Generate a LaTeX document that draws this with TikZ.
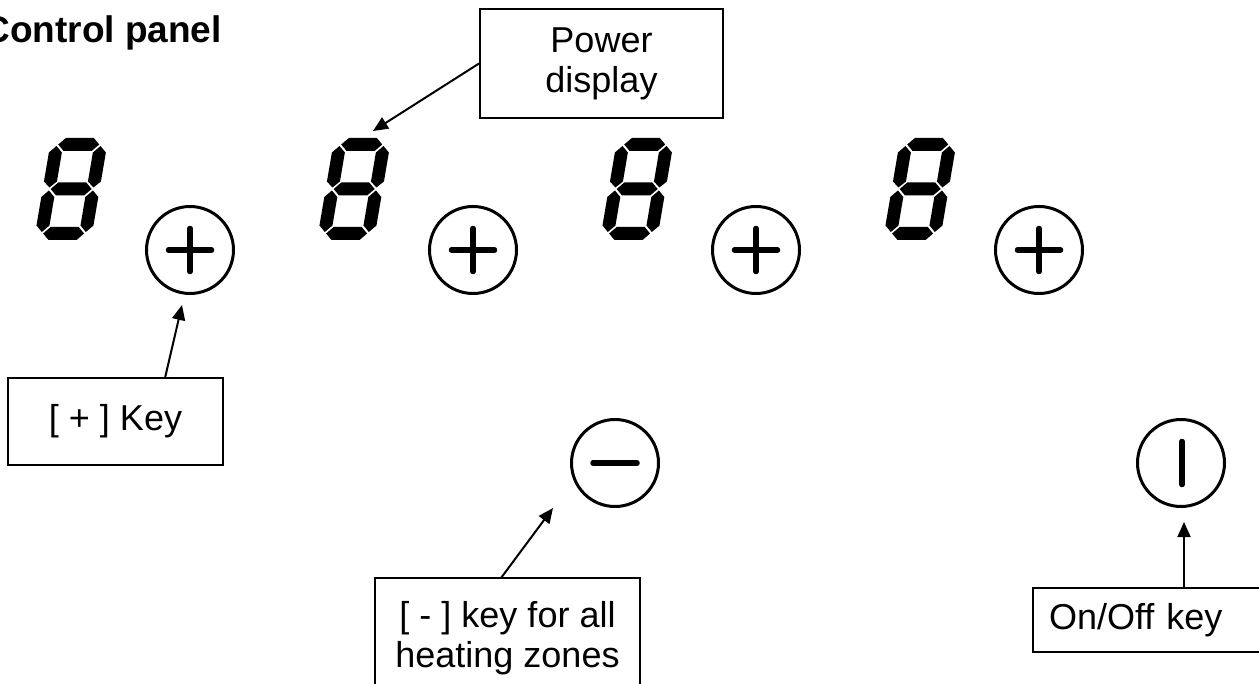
\documentclass[tikz,border=0pt]{standalone}
\usepackage{fontspec}
\setmainfont{Liberation Sans}
\usetikzlibrary{arrows.meta}
\newcommand\digitsegs{%
  \fill (8,-95.5) -- (14.5,-102) -- (42.5,-102) -- (49,-95.5) -- (42.5,-89) -- (14.5,-89) -- cycle;
  \fill (8,-51) -- (14.5,-57.5) -- (42.5,-57.5) -- (49,-51) -- (42.5,-44.5) -- (14.5,-44.5) -- cycle;
  \fill (8,-6.5) -- (14.5,-13) -- (42.5,-13) -- (49,-6.5) -- (42.5,0) -- (14.5,0) -- cycle;
  \fill (6.5,-94) -- (13,-87.5) -- (13,-58.5) -- (6.5,-52.5) -- (0,-58.5) -- (0,-87.5) -- cycle;
  \fill (50.5,-94) -- (57,-87.5) -- (57,-58.5) -- (50.5,-52.5) -- (44,-58.5) -- (44,-87.5) -- cycle;
  \fill (6.5,-49.5) -- (13,-43) -- (13,-14.5) -- (6.5,-8) -- (0,-14.5) -- (0,-43) -- cycle;
  \fill (50.5,-49.5) -- (57,-43) -- (57,-14.5) -- (50.5,-8) -- (44,-14.5) -- (44,-43) -- cycle;
}
\begin{document}
\begin{tikzpicture}[x=0.5pt,y=-0.5pt,
  lbl/.style={draw, line width=1pt, font=\fontsize{18}{20}\selectfont, align=center, inner sep=0pt},
  keycirc/.style={circle, draw, line width=1.5pt, minimum size=43.5pt, inner sep=0pt},
  sym/.style={line width=2.75pt, line cap=round},
  conn/.style={line width=1pt, -{Triangle[length=7.5pt,width=6.5pt]}}]
\useasboundingbox (0,0) rectangle (1259,684);
\clip (0,0) rectangle (1259,684);

% title
\node[anchor=base west, inner sep=0pt, font=\fontsize{18.5}{22}\selectfont\bfseries] (title) at (-17,43) {Control panel};

% seven-segment displays
\foreach \ox in {34,317,600,883} {
  \begin{scope}[shift={(\ox,240)}, xslant=0.17]
    \digitsegs
  \end{scope}
}

% plus keys
\foreach \i/\cx in {1/190,2/473,3/756,4/1039} {
  \node[keycirc] (p\i) at (\cx,250) {};
  \draw[sym] (p\i.center) ++(-21.5,0) -- ++(43,0);
  \draw[sym] (p\i.center) ++(0,-21.5) -- ++(0,43);
}

% minus key
\node[keycirc] (minus) at (615,463) {};
\draw[sym] (minus.center) ++(-22,0) -- ++(44,0);

% on/off key
\node[keycirc] (onoff) at (1181,463) {};
\draw[sym] (onoff.center) ++(1,-21.5) -- ++(0,43);

% label boxes
\node[lbl, minimum width=121.5pt, minimum height=54.5pt] (power) at (601.5,63.5) {Power\\display};
\node[lbl, minimum width=107.5pt, minimum height=43.5pt] (pluskey) at (115.5,421.5) {[ + ] Key};
\node[lbl, minimum width=132.5pt, minimum height=60pt] (minuskey) at (507.5,638) {[ - ] key for all\\heating zones};
\node[lbl, anchor=west, align=left, text width=110pt, inner xsep=8pt, minimum height=32pt] (onkey) at (1032,620) {On/Off key};

% connectors
\coordinate (pwtip) at (373,131);
\coordinate (pks) at (165,378);
\coordinate (pkt) at (182,305);
\coordinate (mks) at (501,578);
\coordinate (mkt) at (553,508);
\coordinate (oks) at (1184,588);
\coordinate (okt) at (1184,522);
\draw[conn] (power.west) -- (pwtip);
\draw[conn] (pks) -- (pkt);
\draw[conn] (mks) -- (mkt);
\draw[conn] (oks) -- (okt);
\end{tikzpicture}
\end{document}
